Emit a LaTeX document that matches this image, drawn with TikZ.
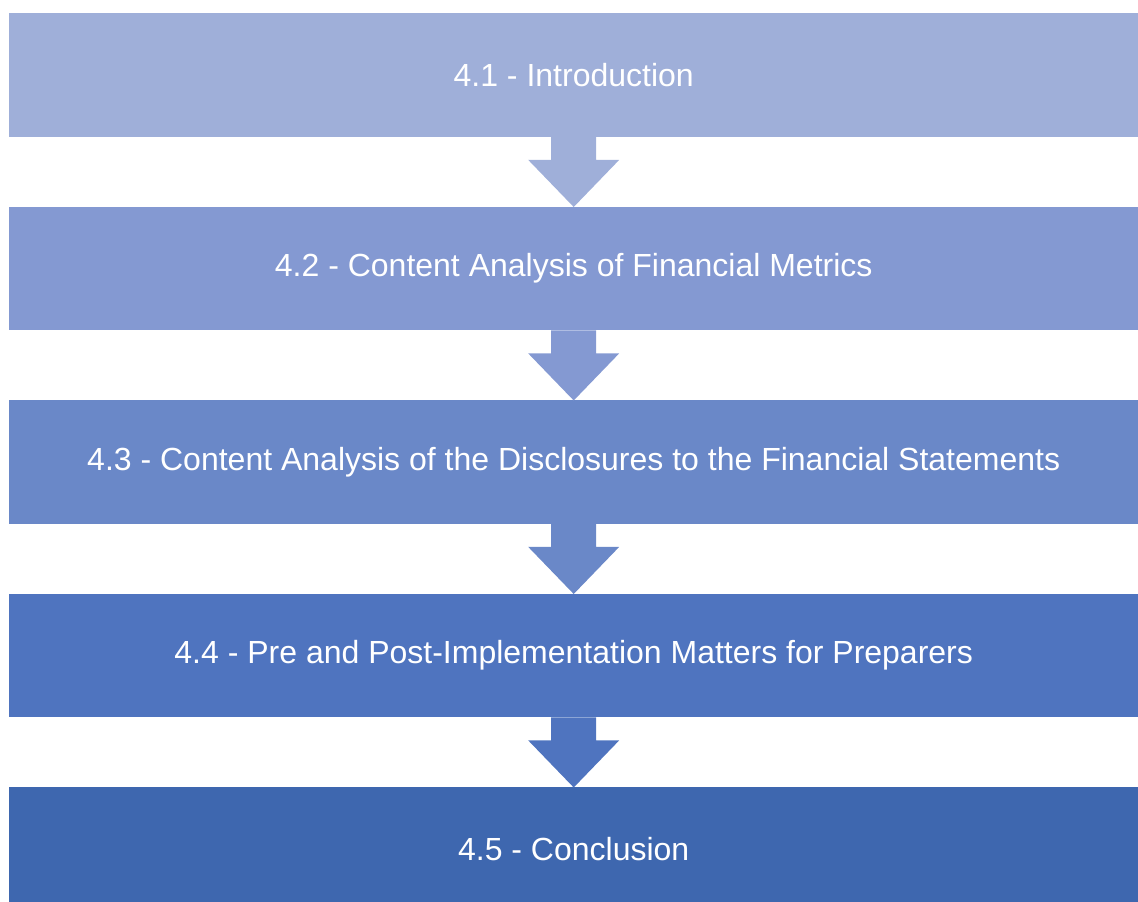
\documentclass[tikz,border=0pt]{standalone}
\usepackage{fontspec}
\setmainfont{Liberation Sans}
\usetikzlibrary{calc}
\definecolor{stepA}{RGB}{159,175,217}
\definecolor{stepB}{RGB}{132,153,210}
\definecolor{stepC}{RGB}{106,136,200}
\definecolor{stepD}{RGB}{79,116,191}
\definecolor{stepE}{RGB}{62,103,175}
\begin{document}
\begin{tikzpicture}[x=1bp,y=-1bp,
  stepbox/.style={fill=#1, draw=none, inner sep=0pt, anchor=north west,
    minimum width=1129bp, minimum height=123.5bp, text=white,
    font=\fontsize{32bp}{38bp}\selectfont},
  downarrow/.style={fill=#1, draw=none}]
  \useasboundingbox (0,0) rectangle (1138,902);
  % stacked stage boxes
  \node[stepbox=stepA] (b1) at (9,13)    {4.1 - Introduction};
  \node[stepbox=stepB] (b2) at (9,206.5) {4.2 - Content Analysis of Financial Metrics};
  \node[stepbox=stepC] (b3) at (9,400)   {4.3 - Content Analysis of the Disclosures to the Financial Statements};
  \node[stepbox=stepD] (b4) at (9,593.5) {4.4 - Pre and Post-Implementation Matters for Preparers};
  \node[stepbox=stepE] (b5) at (9,787)   {4.5 - Conclusion};
  % block arrows linking each box to the next
  \foreach \a/\b/\c in {b1/b2/stepA, b2/b3/stepB, b3/b4/stepC, b4/b5/stepD}{
    \fill[\c]
      ($(\a.south)+(-22.5,0)$) -- ($(\a.south)+(22.5,0)$)
      -- ($(\a.south)+(22.5,23)$) -- ($(\a.south)+(45.5,23)$)
      -- ($(\b.north)+(0,0.5)$)
      -- ($(\a.south)+(-45.5,23)$) -- ($(\a.south)+(-22.5,23)$) -- cycle;
  }
\end{tikzpicture}
\end{document}
